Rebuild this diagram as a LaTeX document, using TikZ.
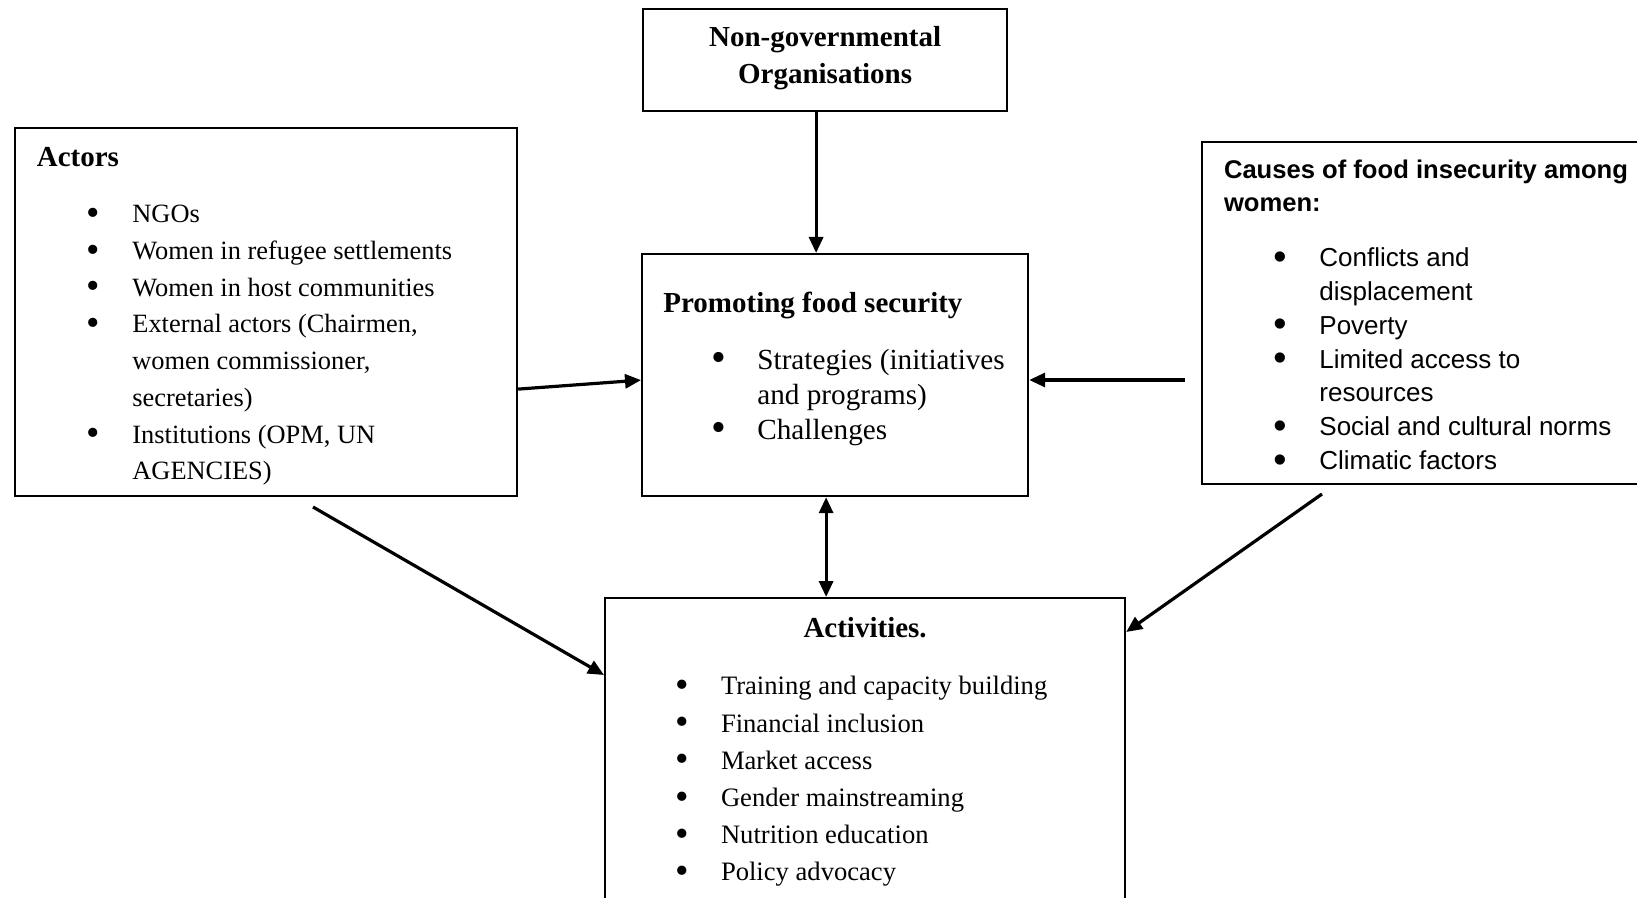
\documentclass[tikz,border=0pt]{standalone}
\usepackage{graphicx}
\usepackage{fontspec}
\setmainfont{Liberation Serif}
\newfontfamily\causesfont{Liberation Sans}
\usetikzlibrary{arrows.meta,positioning}

\newcommand{\li}[1]{\makebox[23pt][l]{\smash{\raisebox{-0.1em}{\scalebox{1.45}{\textbullet}}}}#1}
\newcommand{\lc}[1]{\hspace*{23pt}#1}

\begin{document}
\begin{tikzpicture}[%
    x=0.5pt, y=-0.5pt,
    >={Triangle[length=8pt,width=7pt]},
    box/.style={draw, line width=1.1pt, rectangle, inner sep=0pt, anchor=north west},
    txt/.style={inner sep=0pt, align=left},
    link/.style={->, line width=1.6pt}
  ]
  \useasboundingbox (0,0) rectangle (1637,898);
  \clip (0,0) rectangle (1637,898);

  \node[box, minimum width=182pt, minimum height=51pt, align=center, text depth=5.2pt,
        font=\bfseries\fontsize{14.5}{18.3}\selectfont] (ngo) at (642,8) {Non-governmental\\Organisations};
  \node[box, minimum width=251pt, minimum height=184pt] (actors) at (14,127) {};
  \node[box, minimum width=193pt, minimum height=121pt] (prom) at (641,253) {};
  \node[box, minimum width=230pt, minimum height=171pt] (causes) at (1201,141) {};
  \node[box, minimum width=260pt, minimum height=157pt] (act) at (604,597) {};

  % box contents
  \node[txt, font=\bfseries\fontsize{14.5}{18}\selectfont,
        below right=10pt and 11.25pt of actors.north west] (actorshead) {Actors};
  \node[txt, font=\fontsize{13.2}{18.35}\selectfont,
        below right=39pt and 36pt of actors.north west] (actorslist)
    {\li{NGOs}\\
     \li{Women in refugee settlements}\\
     \li{Women in host communities}\\
     \li{External actors (Chairmen,}\\
     \lc{women commissioner,}\\
     \lc{secretaries)}\\
     \li{Institutions (OPM, UN}\\
     \lc{AGENCIES)}};

  \node[txt, font=\bfseries\fontsize{14.5}{18}\selectfont,
        below right=19.5pt and 11pt of prom.north west] (promhead) {Promoting food security};
  \node[txt, font=\fontsize{14.6}{17.5}\selectfont,
        below right=47.7pt and 35pt of prom.north west] (promlist)
    {\li{Strategies (initiatives}\\
     \lc{and programs)}\\
     \li{Challenges}};

  \node[txt, font=\causesfont\bfseries\fontsize{12.8}{16.25}\selectfont,
        below right=9.5pt and 11.3pt of causes.north west] (causeshead)
    {Causes of food insecurity among\\women:};
  \node[txt, font=\causesfont\fontsize{13}{16.9}\selectfont,
        below right=53.25pt and 36pt of causes.north west] (causeslist)
    {\li{Conflicts and}\\
     \lc{displacement}\\
     \li{Poverty}\\
     \li{Limited access to}\\
     \lc{resources}\\
     \li{Social and cultural norms}\\
     \li{Climatic factors}};

  \node[txt, font=\bfseries\fontsize{14.5}{18}\selectfont,
        below=10pt of act.north] (acthead) {Activities.};
  \node[txt, font=\fontsize{13.3}{18.6}\selectfont,
        below right=39.5pt and 35.3pt of act.north west] (actlist)
    {\li{Training and capacity building}\\
     \li{Financial inclusion}\\
     \li{Market access}\\
     \li{Gender mainstreaming}\\
     \li{Nutrition education}\\
     \li{Policy advocacy}};

  % connectors
  \coordinate (nb) at ([xshift=-4.5pt]ngo.south);
  \coordinate (pb) at ([xshift=-4.5pt]prom.south);
  \coordinate (cs) at (1185,380);
  \coordinate (as) at (313,507);
  \coordinate (cd) at (1322,494);

  \draw[link] (nb) -- (nb |- prom.north);
  \draw[link] ([yshift=-38.5pt]actors.east) -- ([yshift=-2.5pt]prom.west);
  \draw[link] (cs) -- (cs -| prom.east);
  \draw[link, <->] (pb) -- (pb |- act.north);
  \draw[link] (as) -- ([yshift=-39pt]act.north west);
  \draw[link] (cd) -- ([yshift=-17.5pt]act.north east);

\end{tikzpicture}
\end{document}
